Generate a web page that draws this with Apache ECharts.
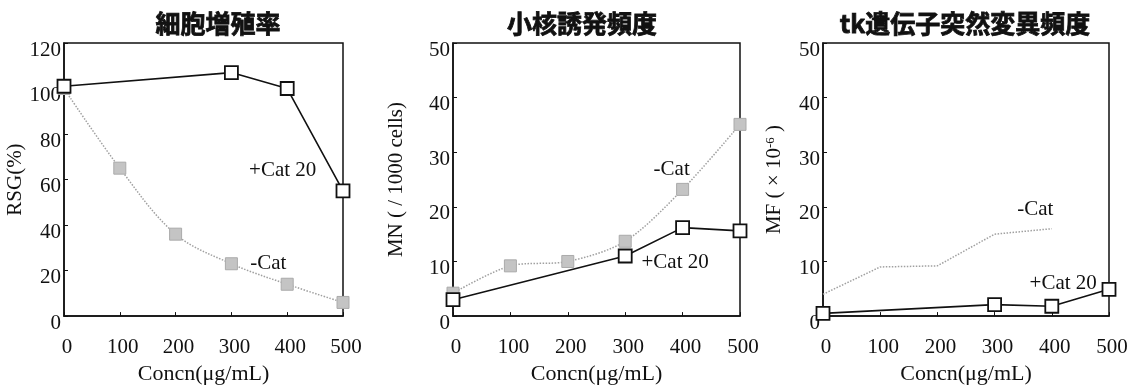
<!DOCTYPE html>
<html>
<head>
<meta charset="utf-8">
<script src="https://cdn.jsdelivr.net/npm/echarts@6/dist/echarts.min.js"></script>
<style>
  html, body { margin: 0; padding: 0; background: #fff; }
  #chart { width: 1139px; height: 390px; }
</style>
</head>
<body>
<div id="chart"></div>
<script>
// Dose levels (µg/mL)
const concn = [0, 100, 200, 300, 400, 500];

// Panel titles
const titles = ['細胞増殖率', '小核誘発頻度', 'tk遺伝子突然変異頻度'];

// Relative suspension growth (%)
const rsgCat = [101, null, null, 107, 100, 55];
const rsgNoCat = [100, 65, 36, 23, 14, 6];

// Micronucleus frequency (/1000 cells)
const mnCat = [3, null, null, 11, 16.2, 15.6];
const mnNoCat = [4.2, 9.2, 10, 13.7, 23.2, 35.1];

// tk mutation frequency (×10^-6)
const mfCat = [0.5, null, null, 2.1, 1.8, 4.9];
const mfNoCat = [4, 9, 9.2, 15, 16, null];

// Y axis ranges
const yMax = [120, 50, 50];
const yStep = [20, 10, 10];

const serif = '"Liberation Serif", "DejaVu Serif", serif';
const cjk = '"Noto Sans CJK JP", "Noto Sans", sans-serif';

const pairs = (ys) => concn.map((x, i) => [x, ys[i]]).filter(p => p[1] !== null);

const grids = [
  { left: 64, top: 43, width: 279, height: 279 },
  { left: 453, top: 43, width: 287, height: 280 },
  { left: 823, top: 43, width: 286, height: 280 }
];

const yNames = [
  'RSG(%)',
  'MN ( / 1000 cells)',
  'MF ( × 10{sup|-6} )'
];
const yNameGaps = [36, 46, 38];

const titleX = [213, 577, 960];

const option = {
  animation: false,
  backgroundColor: '#fff',
  title: titles.map((t, i) => ({
    text: t,
    left: titleX[i],
    top: 6,
    textAlign: 'center',
    textStyle: {
      fontFamily: cjk, fontWeight: 'bold', fontSize: 25, color: '#111',
      textBorderColor: '#111', textBorderWidth: 0.8
    }
  })),
  grid: grids.map(g => Object.assign({ show: true, borderColor: '#111', borderWidth: 1.5, backgroundColor: 'transparent' }, g)),
  xAxis: grids.map((g, i) => ({
    type: 'value',
    gridIndex: i,
    min: 0, max: 500, interval: 100,
    name: 'Concn(μg/mL)',
    nameLocation: 'middle',
    nameGap: 41,
    nameTextStyle: { fontFamily: serif, fontSize: 22, color: '#111' },
    axisLine: { show: true, lineStyle: { color: '#111', width: 1.5 } },
    axisTick: { show: true, inside: true, length: 4, lineStyle: { color: '#111' } },
    axisLabel: { fontFamily: serif, fontSize: 21, color: '#111', margin: 21, padding: [0, 0, 0, 6] },
    splitLine: { show: false }
  })),
  yAxis: grids.map((g, i) => ({
    type: 'value',
    gridIndex: i,
    min: 0, max: yMax[i], interval: yStep[i],
    name: yNames[i],
    nameLocation: 'middle',
    nameGap: yNameGaps[i],
    nameRotate: 90,
    nameTextStyle: {
      fontFamily: serif, fontSize: 21, color: '#111',
      rich: { sup: { fontFamily: serif, fontSize: 13, color: '#111', verticalAlign: 'top', padding: [0, 0, 8, 0] } }
    },
    axisLine: { show: true, lineStyle: { color: '#111', width: 1.5 } },
    axisTick: { show: true, inside: true, length: 4, lineStyle: { color: '#111' } },
    axisLabel: { fontFamily: serif, fontSize: 21, color: '#111', margin: 3, verticalAlign: 'top', lineHeight: 14 },
    splitLine: { show: false }
  })),
  series: []
};

const noCatData = [rsgNoCat, mnNoCat, mfNoCat];
const catData = [rsgCat, mnCat, mfCat];
// annotation anchors in data units: [+Cat 20, -Cat]
const notes = [
  [[392, 64], [366, 23]],
  [[387, 9.8], [381, 26.8]],
  [[420, 5.9], [371, 19.6]]
];
const showGrayMarks = [true, true, false];
const smoothness = [0.35, 0.3, 0];

const noteLabel = (text, coord) => ({
  coord: coord,
  symbol: 'circle',
  symbolSize: 0,
  label: { show: true, position: 'inside', formatter: text, fontFamily: serif, fontSize: 21, color: '#111' }
});

for (let i = 0; i < 3; i++) {
  option.series.push({
    type: 'line',
    xAxisIndex: i, yAxisIndex: i,
    data: pairs(noCatData[i]),
    smooth: smoothness[i],
    symbol: showGrayMarks[i] ? 'rect' : 'none',
    symbolSize: 12,
    lineStyle: { color: '#a0a0a0', width: 1.5, type: 'dotted' },
    itemStyle: { color: '#c4c4c4', borderColor: '#aaaaaa', borderWidth: 1 },
    z: 2,
    markPoint: { silent: true, data: [noteLabel('-Cat', notes[i][1])] }
  });
  option.series.push({
    type: 'line',
    xAxisIndex: i, yAxisIndex: i,
    data: pairs(catData[i]),
    symbol: 'rect',
    symbolSize: 13,
    showAllSymbol: true,
    lineStyle: { color: '#111', width: 1.6 },
    itemStyle: { color: '#fff', borderColor: '#111', borderWidth: 1.8 },
    z: 3,
    markPoint: { silent: true, data: [noteLabel('+Cat 20', notes[i][0])] }
  });
}

const chart = echarts.init(document.getElementById('chart'), null, { renderer: 'canvas' });
chart.setOption(option);
</script>
</body>
</html>
